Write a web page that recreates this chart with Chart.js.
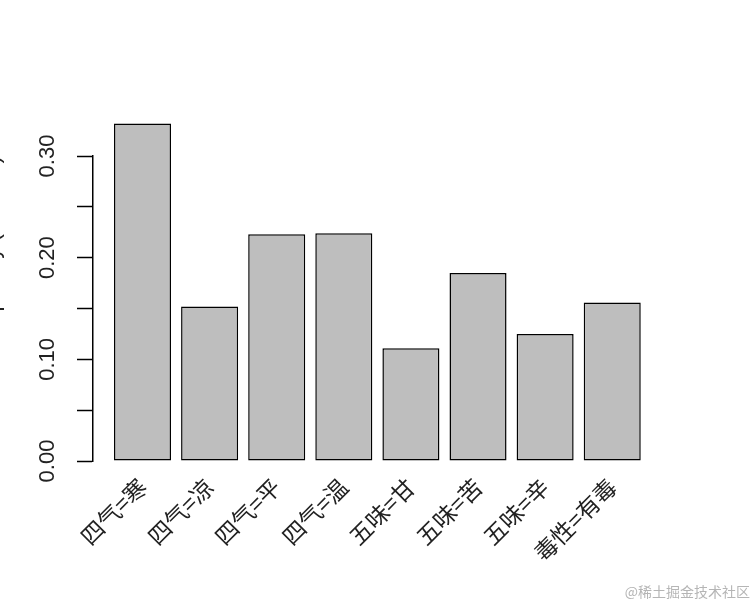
<!DOCTYPE html>
<html lang="zh">
<head>
    <meta charset="UTF-8">
    <title>item frequency</title>
    <script src="https://cdn.jsdelivr.net/npm/chart.js@4.4.1/dist/chart.umd.min.js"></script>
    <style>
        body {
            margin: 0;
            background: #fff;
        }
        #wrap {
            position: relative;
            width: 756px;
            height: 606px;
        }
        #mark {
            position: absolute;
            right: 6px;
            bottom: 5px;
            font-family: "Noto Sans CJK SC", sans-serif;
            font-size: 14px;
            color: #b5b5b5;
        }
    </style>
</head>
<body>
    <div id="wrap">
        <canvas id="freqChart" width="756" height="606"></canvas>
        <div id="mark">@稀土掘金技术社区</div>
    </div>

    <script>
        // item names and relative frequency
        const categories = ['四气=寒', '四气=凉', '四气=平', '四气=温', '五味=甘', '五味=苦', '五味=辛', '毒性=有毒'];
        const freqValues = [0.332, 0.152, 0.223, 0.224, 0.111, 0.185, 0.125, 0.156];
        const yTickLabels = ['0.00', '0.10', '0.20', '0.30'];

        // bars sit at x = 1..n on a linear axis so the y axis can stand apart like in R
        const points = freqValues.map((v, i) => ({ x: i + 1, y: v }));

        const ctx = document.getElementById('freqChart').getContext('2d');
        new Chart(ctx, {
            type: 'bar',
            data: {
                datasets: [{
                    data: points,
                    backgroundColor: '#bebebe',
                    borderColor: '#000',
                    borderWidth: 1.5,
                    borderSkipped: false,
                    barPercentage: 0.85,
                    categoryPercentage: 1,
                    clip: false
                }]
            },
            options: {
                responsive: false,
                animation: false,
                layout: {
                    padding: { top: 156, right: 56, bottom: 0, left: 0 }
                },
                plugins: {
                    legend: { display: false },
                    tooltip: { enabled: false }
                },
                scales: {
                    x: {
                        type: 'linear',
                        offset: false,
                        min: 0.2623,
                        max: 9.308,
                        afterBuildTicks: (scale) => {
                            scale.ticks = scale.ticks.filter(t => Number.isInteger(t.value) && t.value >= 1 && t.value <= categories.length);
                        },
                        afterFit: (scale) => {
                            scale.height = 145;
                            // rotated labels should not push the plot area around
                            scale.paddingLeft = 0;
                            scale.paddingRight = 0;
                        },
                        grid: { display: false, drawTicks: false },
                        border: { display: false },
                        ticks: {
                            stepSize: 1,
                            autoSkip: false,
                            minRotation: 45,
                            maxRotation: 45,
                            padding: 12,
                            color: '#222',
                            font: { family: '"Noto Sans CJK SC", sans-serif', size: 23 },
                            callback: (v) => categories[v - 1] || ''
                        }
                    },
                    y: {
                        min: 0,
                        max: 0.3,
                        afterFit: (scale) => { scale.width = 93; },
                        grid: {
                            drawOnChartArea: false,
                            tickLength: 16,
                            tickColor: '#000',
                            tickWidth: 1.5
                        },
                        border: { color: '#000', width: 1.5 },
                        title: {
                            display: true,
                            text: 'item frequency (relative)',
                            align: 'end',
                            color: '#222',
                            font: { family: '"Liberation Sans", Arial, sans-serif', size: 22 },
                            padding: { top: -20, bottom: 0 }
                        },
                        ticks: {
                            stepSize: 0.05,
                            minRotation: 90,
                            maxRotation: 90,
                            crossAlign: 'center',
                            padding: 8,
                            color: '#222',
                            font: { family: '"Liberation Sans", Arial, sans-serif', size: 22 },
                            callback: (v) => {
                                const s = v.toFixed(2);
                                return yTickLabels.includes(s) ? s : '';
                            }
                        }
                    }
                }
            }
        });
    </script>
</body>
</html>
